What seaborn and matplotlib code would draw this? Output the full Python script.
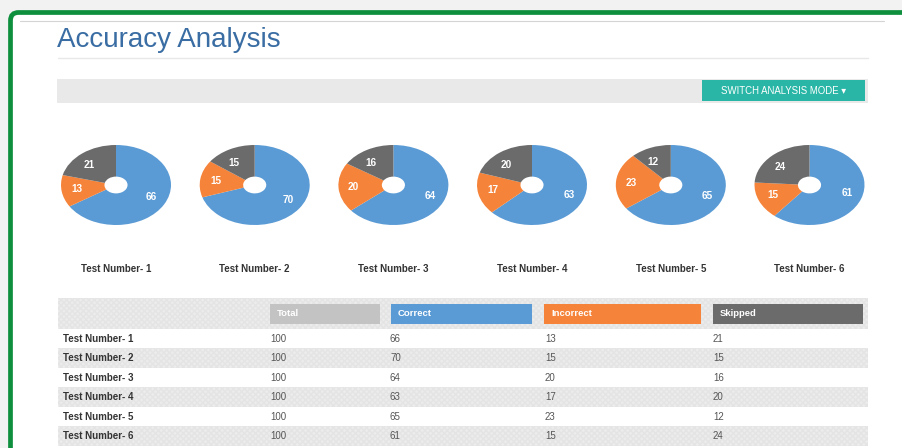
import matplotlib
matplotlib.use("Agg")
import matplotlib.pyplot as plt
from matplotlib.patches import Rectangle, FancyBboxPatch
import seaborn as sns

# ---------------- data ----------------
tests = ["Test Number- 1", "Test Number- 2", "Test Number- 3",
         "Test Number- 4", "Test Number- 5", "Test Number- 6"]
total = [100, 100, 100, 100, 100, 100]
correct = [66, 70, 64, 63, 65, 61]
incorrect = [13, 15, 20, 17, 23, 15]
skipped = [21, 15, 16, 20, 12, 24]
columns = ["Total", "Correct", "Incorrect", "Skipped"]

sns.set_theme(style="white")
plt.rcParams["font.family"] = ["Liberation Sans", "DejaVu Sans"]

palette = sns.color_palette(["#5b9bd5", "#f5843a", "#6b6b6b"])
c_correct, c_incorrect, c_skipped = palette
c_total = "#c3c3c3"
teal = "#29b6a6"

W, H = 902, 448
fig = plt.figure(figsize=(W / 100, H / 100), dpi=100)
fig.patch.set_facecolor("#f2f2f2")

bg = fig.add_axes([0, 0, 1, 1])
bg.set_xlim(0, W)
bg.set_ylim(H, 0)
bg.axis("off")

# panel with green rounded border
bg.add_patch(FancyBboxPatch((10.5, 12.5), 920, 460,
                            boxstyle="round,pad=0,rounding_size=8",
                            facecolor="white", edgecolor="#0d8f3e",
                            linewidth=3.4, zorder=1))
bg.plot([20, 884], [21.5, 21.5], color="#d4d4d4", lw=0.8, zorder=2)

# title
bg.text(57, 40, "Accuracy Analysis", fontsize=20, color="#3a6da3",
        va="center", ha="left", zorder=3)
bg.plot([58, 868], [58.5, 58.5], color="#e8e8e8", lw=1, zorder=2)

# toolbar + button
bg.add_patch(Rectangle((57, 79), 811, 24, facecolor="#e9e9e9",
                       edgecolor="none", zorder=2))
bg.add_patch(Rectangle((702, 80), 163, 21.5, facecolor=teal,
                       edgecolor="none", zorder=3))
bg.text(783.5, 91, "SWITCH ANALYSIS MODE \u25be", fontsize=6.9,
        color="white", ha="center", va="center", zorder=4,
        family=["Liberation Sans", "DejaVu Sans"])

# pies
centers_x = [116, 254.7, 393.4, 532, 670.8, 809.5]
cy = 185
pw, ph = 110, 80
for i, name in enumerate(tests):
    cx = centers_x[i]
    ax = fig.add_axes([(cx - pw / 2) / W, (H - (cy + ph / 2)) / H,
                       pw / W, ph / H])
    vals = [correct[i], incorrect[i], skipped[i]]
    wedges, texts = ax.pie(vals, colors=[c_correct, c_incorrect, c_skipped],
                           startangle=90, counterclock=False,
                           labels=[str(v) for v in vals], labeldistance=0.62,
                           wedgeprops=dict(width=0.79, linewidth=0),
                           textprops=dict(color="white", fontsize=7.2,
                                          fontweight="bold"))
    ax.set_aspect("auto")
    ax.set_xlim(-1, 1)
    ax.set_ylim(-1, 1)
    ax.axis("off")
    bg.text(cx, 268.5, name, fontsize=7, fontweight="bold",
            color="#333333", ha="center", va="center", zorder=3)

# table
tx0, tx1 = 58, 868
bg.add_patch(Rectangle((tx0, 298), tx1 - tx0, 31, facecolor="#ececec",
                       edgecolor="#e4e4e4", hatch="xxxxxx", lw=0, zorder=2))
hdr = [(270, 380, c_total), (391, 532, c_correct),
       (544, 701, c_incorrect), (713, 863, c_skipped)]
for (x0, x1, col), lab in zip(hdr, columns):
    bg.add_patch(Rectangle((x0, 304), x1 - x0, 20, facecolor=col,
                           edgecolor="none", zorder=3))
    bg.text(x0 + 7, 314, lab, fontsize=6.8, fontweight="bold", color="white",
            ha="left", va="center", zorder=4)

row_y0 = 329
row_h = 19.5
col_x = [63, 270, 390, 545, 713]
for r in range(len(tests)):
    y0 = row_y0 + r * row_h
    if r % 2 == 1:
        bg.add_patch(Rectangle((tx0, y0), tx1 - tx0, row_h,
                               facecolor="#ececec", edgecolor="#e4e4e4",
                               hatch="xxxxxx", lw=0, zorder=2))
    yc = y0 + row_h / 2
    bg.text(col_x[0], yc, tests[r], fontsize=7, fontweight="bold",
            color="#333333", ha="left", va="center", zorder=4)
    for c, series in enumerate([total, correct, incorrect, skipped]):
        bg.text(col_x[c + 1], yc, str(series[r]), fontsize=7,
                color="#555555", ha="left", va="center", zorder=4)

fig.savefig("out.png", dpi=100)
